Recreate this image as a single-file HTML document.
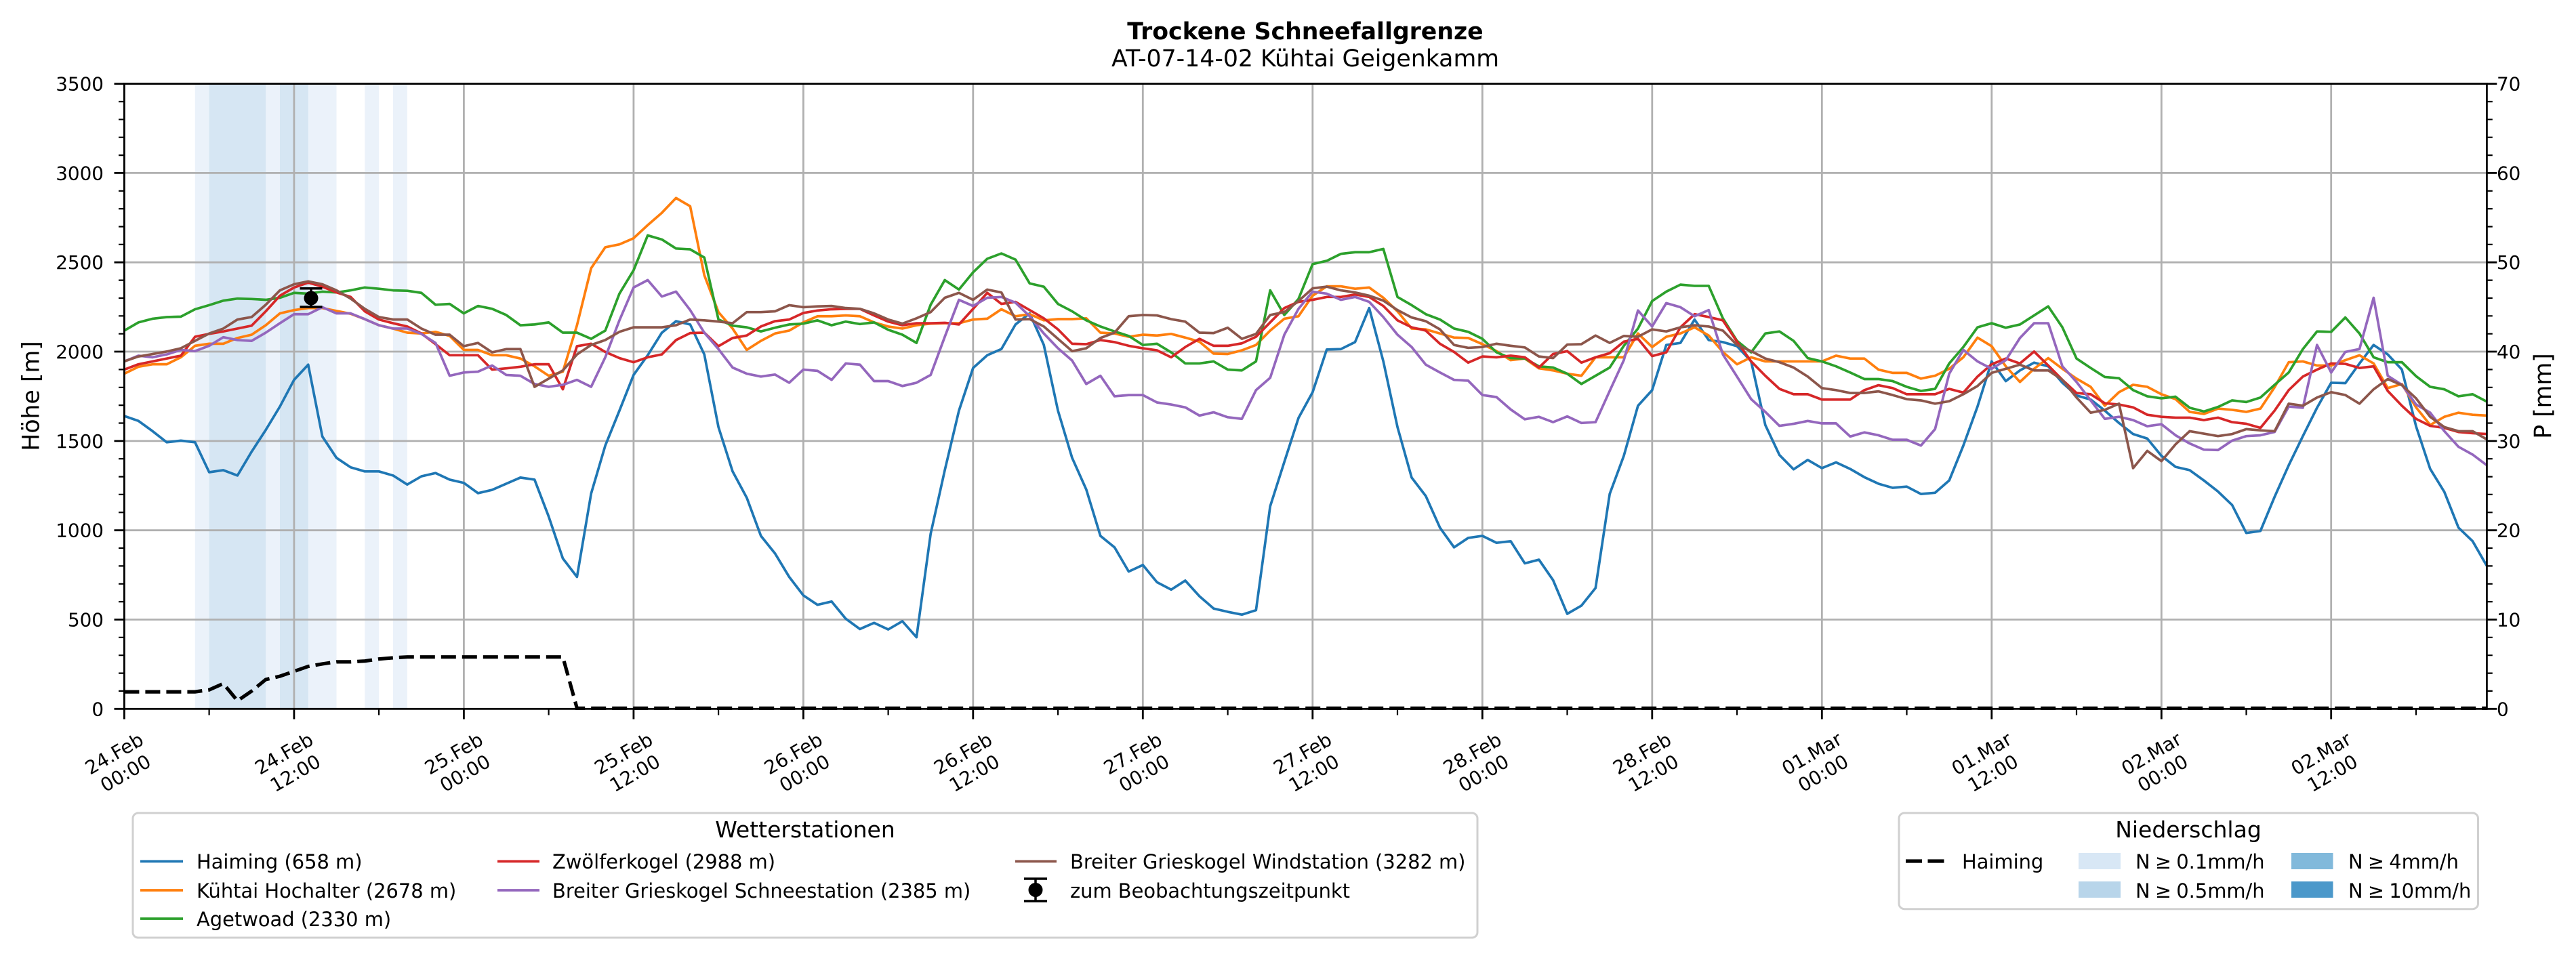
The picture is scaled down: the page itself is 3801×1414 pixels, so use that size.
<!DOCTYPE html>
<html><head><meta charset="utf-8"><style>
html,body{margin:0;padding:0;background:#fff;}
svg{display:block;}
text{font-family:"DejaVu Sans","Liberation Sans",sans-serif;fill:#000;}
.t{font-size:27.8px;}
.l{font-size:28.9px;}
.lt{font-size:33px;}
.s polyline{fill:none;stroke-width:3.7;stroke-linejoin:round;vector-effect:non-scaling-stroke;}
</style></head><body>
<svg width="3801" height="1414" viewBox="0 0 3801 1414" xmlns="http://www.w3.org/2000/svg">
<rect width="3801" height="1414" fill="#fff"/>
<text x="1926" y="58" font-size="34.7" font-weight="bold" text-anchor="middle">Trockene Schneefallgrenze</text>
<text x="1926" y="98" font-size="34.7" text-anchor="middle">AT-07-14-02 Kühtai Geigenkamm</text>

<!-- precipitation bands -->
<g>
<rect x="287.8" y="123.6" width="21.3" height="922.7" fill="#ebf2fa"/>
<rect x="308.6" y="123.6" width="83.9" height="922.7" fill="#d6e6f3"/>
<rect x="392.1" y="123.6" width="21.3" height="922.7" fill="#ebf2fa"/>
<rect x="413.0" y="123.6" width="42.1" height="922.7" fill="#d6e6f3"/>
<rect x="454.8" y="123.6" width="41.7" height="922.7" fill="#ebf2fa"/>
<rect x="538.3" y="123.6" width="20.9" height="922.7" fill="#ebf2fa"/>
<rect x="580.0" y="123.6" width="20.9" height="922.7" fill="#ebf2fa"/>
</g>

<!-- grid -->
<g stroke="#b0b0b0" stroke-width="2.8">
<path d="M433.9,123.6V1046.3M684.4,123.6V1046.3M934.9,123.6V1046.3M1185.4,123.6V1046.3M1435.8,123.6V1046.3M1686.3,123.6V1046.3M1936.8,123.6V1046.3M2187.3,123.6V1046.3M2437.8,123.6V1046.3M2688.3,123.6V1046.3M2938.8,123.6V1046.3M3189.3,123.6V1046.3M3439.7,123.6V1046.3"/>
<path d="M183.4,914.5H3669.4M183.4,782.7H3669.4M183.4,650.9H3669.4M183.4,519.0H3669.4M183.4,387.2H3669.4M183.4,255.4H3669.4"/>
</g>

<!-- precipitation dashed line -->
<polyline fill="none" stroke="#000" stroke-width="5.2" stroke-dasharray="22 9" points="183.4,1021.1 287.8,1021.1 308.6,1018.2 329.5,1009.0 350.4,1034.4 371.3,1020.0 392.1,1003.0 413.0,998.1 433.9,990.9 454.8,983.6 475.6,979.9 496.5,976.9 517.4,976.9 538.3,975.7 559.1,972.7 580.0,970.9 600.9,969.7 830.5,969.7 851.4,1045.4 3669.4,1045.4"/>

<!-- series -->
<g class="s" transform="matrix(20.874 0 0 0.60588 183.4 109.3)">
<polyline stroke="#1f77b4" points="0,833 1,845 2,870 3,897 4,893 5,897 6,970 7,965 8,978 9,920 10,867 11,810 12,745 13,708 14,883 15,935 16,958 17,968 18,968 19,978 20,1000 21,980 22,972 23,988 24,996 25,1021 26,1013 27,998 28,983 29,988 30,1078 31,1180 32,1225 33,1022 34,905 35,820 36,733 37,685 38,630 39,602 40,610 41,683 42,860 43,968 44,1032 45,1125 46,1168 47,1225 48,1270 49,1293 50,1285 51,1327 52,1352 53,1337 54,1353 55,1333 56,1372 57,1120 58,965 59,820 60,716 61,685 62,670 63,610 64,583 65,660 66,820 67,935 68,1012 69,1125 70,1153 71,1212 72,1196 73,1238 74,1256 75,1234 76,1272 77,1302 78,1310 79,1317 80,1306 81,1053 82,945 83,838 84,775 85,671 86,670 87,653 88,570 89,700 90,860 91,983 92,1028 93,1105 94,1153 95,1130 96,1125 97,1142 98,1138 99,1192 100,1183 101,1233 102,1315 103,1295 104,1252 105,1023 106,930 107,808 108,770 109,660 110,655 111,598 112,648 113,653 114,663 115,700 116,855 117,928 118,963 119,940 120,960 121,946 122,962 123,982 124,998 125,1008 126,1005 127,1023 128,1020 129,990 130,905 131,810 132,700 133,748 134,722 135,703 136,712 137,752 138,783 139,793 140,820 141,850 142,877 143,888 144,930 145,957 146,965 147,990 148,1017 149,1050 150,1118 151,1113 152,1030 153,953 154,882 155,813 156,752 157,753 158,705 159,660 160,683 161,720 162,858 163,962 164,1018 165,1105 166,1138 167,1198"/>
<polyline stroke="#ff7f0e" points="0,730 1,713 2,707 3,707 4,690 5,662 6,657 7,657 8,643 9,635 10,612 11,583 12,575 13,570 14,570 15,577 16,584 17,597 18,612 19,620 20,630 21,632 22,628 23,638 24,672 25,672 26,685 27,685 28,693 29,712 30,735 31,725 32,612 33,473 34,422 35,415 36,400 37,368 38,338 39,302 40,322 41,490 42,580 43,620 44,672 45,650 46,632 47,625 48,605 49,590 50,590 51,588 52,590 53,605 54,615 55,620 56,612 57,608 58,607 59,607 60,598 61,596 62,573 63,590 64,585 65,600 66,597 67,597 68,595 69,630 70,632 71,640 72,635 73,637 74,633 75,642 76,652 77,681 78,682 79,673 80,660 81,625 82,596 83,590 84,540 85,517 86,517 87,523 88,520 89,545 90,578 91,620 92,622 93,632 94,642 95,643 96,658 97,675 98,697 99,693 100,717 101,722 102,730 103,735 104,690 105,690 106,690 107,632 108,665 109,640 110,632 111,617 112,637 113,677 114,707 115,690 116,700 117,700 118,700 119,700 120,700 121,686 122,693 123,693 124,720 125,728 126,728 127,742 128,735 129,718 130,690 131,642 132,663 133,712 134,750 135,718 136,692 137,718 138,742 139,762 140,808 141,775 142,757 143,762 144,780 145,792 146,823 147,828 148,815 149,818 150,823 151,815 152,763 153,702 154,700 155,710 156,710 157,697 158,685 159,705 160,765 161,755 162,812 163,855 164,835 165,825 166,830 167,832"/>
<polyline stroke="#2ca02c" points="0,625 1,605 2,596 3,592 4,591 5,573 6,563 7,552 8,547 9,548 10,550 11,545 12,533 13,535 14,530 15,532 16,527 17,520 18,523 19,527 20,528 21,533 22,562 23,560 24,583 25,565 26,572 27,587 28,612 29,610 30,605 31,630 32,630 33,645 34,625 35,535 36,478 37,393 38,403 39,425 40,427 41,447 42,598 43,613 44,617 45,627 46,618 47,610 48,608 49,600 50,612 51,603 52,609 53,605 54,623 55,635 56,655 57,562 58,502 59,525 60,483 61,450 62,437 63,452 64,510 65,518 66,560 67,578 68,600 69,615 70,627 71,638 72,660 73,657 74,678 75,705 76,705 77,700 78,720 79,722 80,700 81,527 82,587 83,548 84,463 85,455 86,438 87,434 88,434 89,426 90,543 91,563 92,585 93,598 94,620 95,628 96,645 97,678 98,692 99,693 100,712 101,715 102,730 103,755 104,735 105,715 106,662 107,620 108,553 109,530 110,513 111,516 112,516 113,595 114,650 115,678 116,632 117,627 118,650 119,692 120,700 121,712 122,727 123,743 124,743 125,748 126,762 127,772 128,767 129,705 130,665 131,617 132,607 133,618 134,610 135,588 136,566 137,617 138,693 139,716 140,738 141,741 142,770 143,785 144,790 145,786 146,813 147,822 148,811 149,795 150,799 151,788 152,757 153,727 154,670 155,627 156,628 157,593 158,632 159,690 160,702 161,702 162,736 163,762 164,768 165,785 166,780 167,798"/>
<polyline stroke="#d62728" points="0,720 1,707 2,700 3,693 4,686 5,640 6,633 7,627 8,620 9,613 10,578 11,540 12,520 13,508 14,518 15,532 16,543 17,578 18,598 19,607 20,615 21,632 22,658 23,685 24,685 25,685 26,720 27,717 28,713 29,707 30,707 31,768 32,663 33,657 34,677 35,692 36,702 37,690 38,683 39,648 40,631 41,630 42,663 43,643 44,637 45,615 46,602 47,598 48,582 49,576 50,573 51,572 52,572 53,588 54,603 55,612 56,607 57,607 58,606 59,610 60,572 61,533 62,560 63,555 64,575 65,595 66,622 67,657 68,658 69,648 70,653 71,662 72,668 73,673 74,690 75,665 76,645 77,662 78,662 79,656 80,640 81,605 82,570 83,555 84,550 85,543 86,543 87,537 88,543 89,565 90,600 91,617 92,625 93,657 94,677 95,703 96,688 97,690 98,686 99,690 100,715 101,682 102,675 103,703 104,690 105,680 106,652 107,645 108,687 109,678 110,617 111,585 112,592 113,600 114,652 115,700 116,735 117,767 118,780 119,780 120,793 121,793 122,793 123,770 124,758 125,765 126,780 127,780 128,780 129,767 130,776 131,737 132,707 133,693 134,705 135,676 136,710 137,745 138,777 139,780 140,802 141,805 142,812 143,830 144,835 145,837 146,837 147,843 148,837 149,848 150,852 151,862 152,820 153,770 154,737 155,720 156,705 157,706 158,716 159,712 160,772 161,808 162,840 163,857 164,862 165,872 166,875 167,877"/>
<polyline stroke="#9467bd" points="0,700 1,686 2,690 3,683 4,672 5,675 6,662 7,641 8,648 9,650 10,630 11,607 12,585 13,585 14,568 15,583 16,583 17,597 18,612 19,620 20,620 21,633 22,655 23,735 24,727 25,725 26,710 27,733 28,735 29,755 30,762 31,757 32,745 33,762 34,690 35,600 36,520 37,502 38,542 39,530 40,575 41,630 42,670 43,715 44,730 45,737 46,732 47,752 48,720 49,723 50,745 51,705 52,708 53,748 54,748 55,760 56,752 57,733 58,640 59,550 60,565 61,545 62,543 63,557 64,590 65,632 66,668 67,698 68,755 69,735 70,785 71,782 72,782 73,800 74,805 75,812 76,832 77,824 78,836 79,840 80,770 81,740 82,635 83,572 84,530 85,535 86,550 87,543 88,555 89,592 90,635 91,665 92,708 93,727 94,745 95,747 96,782 97,787 98,817 99,841 100,835 101,848 102,834 103,850 104,848 105,772 106,697 107,576 108,615 109,558 110,568 111,590 112,575 113,683 114,737 115,792 116,823 117,857 118,852 119,845 120,851 121,851 122,883 123,873 124,880 125,891 126,891 127,905 128,865 129,730 130,672 131,700 132,718 133,697 134,643 135,607 136,607 137,712 138,750 139,795 140,840 141,835 142,843 143,858 144,853 145,880 146,900 147,915 148,916 149,893 150,882 151,880 152,872 153,810 154,813 155,660 156,727 157,677 158,670 159,545 160,735 161,757 162,805 163,825 164,870 165,908 166,927 167,953"/>
<polyline stroke="#8c564b" points="0,700 1,688 2,682 3,676 4,668 5,650 6,632 7,620 8,598 9,592 10,562 11,527 12,512 13,505 14,512 15,527 16,547 17,572 18,592 19,598 20,598 21,620 22,635 23,635 24,663 25,655 26,678 27,670 28,670 29,762 30,742 31,722 32,683 33,660 34,648 35,628 36,617 37,617 38,617 39,612 40,598 41,600 42,603 43,607 44,580 45,580 46,578 47,563 48,568 49,566 50,565 51,570 52,572 53,583 54,598 55,608 56,595 57,580 58,545 59,533 60,550 61,525 62,532 63,598 64,597 65,615 66,645 67,675 68,668 69,643 70,630 71,590 72,587 73,588 74,597 75,603 76,630 77,631 78,618 79,645 80,633 81,587 82,580 83,553 84,522 85,518 86,527 87,532 88,540 89,552 90,575 91,593 92,602 93,622 94,660 95,667 96,665 97,657 98,662 99,666 100,688 101,692 102,659 103,658 104,637 105,655 106,638 107,640 108,622 109,627 110,617 111,612 112,615 113,625 114,660 115,675 116,693 117,702 118,715 119,737 120,765 121,770 122,777 123,777 124,773 125,782 126,792 127,795 128,803 129,797 130,780 131,760 132,728 133,718 134,708 135,722 136,722 137,745 138,788 139,825 140,818 141,803 142,960 143,918 144,943 145,902 146,870 147,876 148,882 149,877 150,865 151,868 152,870 153,803 154,808 155,788 156,775 157,782 158,803 159,768 160,743 161,758 162,790 163,835 164,860 165,870 166,870 167,890"/>
</g>

<!-- observation errorbar -->
<g stroke="#000" stroke-width="3.5">
<path d="M459,425.7V453M442.5,425.7H475.5M442.5,453H475.5"/>
</g>
<circle cx="459" cy="440" r="10.5" fill="#000"/>

<!-- spines -->
<rect x="183.4" y="123.6" width="3486" height="922.7" fill="none" stroke="#000" stroke-width="2.8"/>

<!-- ticks -->
<g stroke="#000" stroke-width="2.8">
<path d="M168.5,1046.3H183.4M168.5,914.5H183.4M168.5,782.7H183.4M168.5,650.9H183.4M168.5,519.0H183.4M168.5,387.2H183.4M168.5,255.4H183.4M168.5,123.6H183.4"/>
<path d="M3669.4,1046.3H3684.3M3669.4,914.5H3684.3M3669.4,782.7H3684.3M3669.4,650.9H3684.3M3669.4,519.0H3684.3M3669.4,387.2H3684.3M3669.4,255.4H3684.3M3669.4,123.6H3684.3"/>
<path d="M183.4,1046.3V1061.5M433.9,1046.3V1061.5M684.4,1046.3V1061.5M934.9,1046.3V1061.5M1185.4,1046.3V1061.5M1435.8,1046.3V1061.5M1686.3,1046.3V1061.5M1936.8,1046.3V1061.5M2187.3,1046.3V1061.5M2437.8,1046.3V1061.5M2688.3,1046.3V1061.5M2938.8,1046.3V1061.5M3189.3,1046.3V1061.5M3439.7,1046.3V1061.5"/>
</g>
<g stroke="#000" stroke-width="2.2">
<path d="M175,1019.9H183.4M175,993.6H183.4M175,967.2H183.4M175,940.9H183.4M175,888.1H183.4M175,861.8H183.4M175,835.4H183.4M175,809.0H183.4M175,756.3H183.4M175,729.9H183.4M175,703.6H183.4M175,677.2H183.4M175,624.5H183.4M175,598.1H183.4M175,571.8H183.4M175,545.4H183.4M175,492.7H183.4M175,466.3H183.4M175,440.0H183.4M175,413.6H183.4M175,360.9H183.4M175,334.5H183.4M175,308.1H183.4M175,281.8H183.4M175,229.1H183.4M175,202.7H183.4M175,176.3H183.4M175,150.0H183.4"/>
<path d="M3669.4,1019.9H3677.8M3669.4,993.6H3677.8M3669.4,967.2H3677.8M3669.4,940.9H3677.8M3669.4,888.1H3677.8M3669.4,861.8H3677.8M3669.4,835.4H3677.8M3669.4,809.0H3677.8M3669.4,756.3H3677.8M3669.4,729.9H3677.8M3669.4,703.6H3677.8M3669.4,677.2H3677.8M3669.4,624.5H3677.8M3669.4,598.1H3677.8M3669.4,571.8H3677.8M3669.4,545.4H3677.8M3669.4,492.7H3677.8M3669.4,466.3H3677.8M3669.4,440.0H3677.8M3669.4,413.6H3677.8M3669.4,360.9H3677.8M3669.4,334.5H3677.8M3669.4,308.1H3677.8M3669.4,281.8H3677.8M3669.4,229.1H3677.8M3669.4,202.7H3677.8M3669.4,176.3H3677.8M3669.4,150.0H3677.8"/>
<path d="M308.6,1046.3V1055.5M559.1,1046.3V1055.5M809.6,1046.3V1055.5M1060.1,1046.3V1055.5M1310.6,1046.3V1055.5M1561.1,1046.3V1055.5M1811.6,1046.3V1055.5M2062.0,1046.3V1055.5M2312.5,1046.3V1055.5M2563.0,1046.3V1055.5M2813.5,1046.3V1055.5M3064.0,1046.3V1055.5M3314.5,1046.3V1055.5M3565.0,1046.3V1055.5"/>
</g>

<!-- left tick labels -->
<g class="t" text-anchor="end">
<text class="t" x="153" y="1056.3">0</text>
<text class="t" x="153" y="924.5">500</text>
<text class="t" x="153" y="792.7">1000</text>
<text class="t" x="153" y="660.9">1500</text>
<text class="t" x="153" y="529.0">2000</text>
<text class="t" x="153" y="397.2">2500</text>
<text class="t" x="153" y="265.4">3000</text>
<text class="t" x="153" y="133.6">3500</text>
</g>
<!-- right tick labels -->
<g>
<text class="t" x="3684" y="1056.3">0</text>
<text class="t" x="3684" y="924.5">10</text>
<text class="t" x="3684" y="792.7">20</text>
<text class="t" x="3684" y="660.9">30</text>
<text class="t" x="3684" y="529.0">40</text>
<text class="t" x="3684" y="397.2">50</text>
<text class="t" x="3684" y="265.4">60</text>
<text class="t" x="3684" y="133.6">70</text>
</g>

<!-- axis labels -->
<text font-size="34.7" text-anchor="middle" transform="translate(57.5,584.5) rotate(-90)">Höhe [m]</text>
<text font-size="34.7" text-anchor="middle" transform="translate(3763.8,584.5) rotate(-90)">P [mm]</text>

<!-- x tick labels -->
<g class="t" text-anchor="middle">
<g transform="translate(176.4,1126) rotate(-30)"><text class="t" text-anchor="middle"><tspan x="0" y="-6">24.Feb</tspan><tspan x="0" y="27.4">00:00</tspan></text></g>
<g transform="translate(426.9,1126) rotate(-30)"><text class="t" text-anchor="middle"><tspan x="0" y="-6">24.Feb</tspan><tspan x="0" y="27.4">12:00</tspan></text></g>
<g transform="translate(677.4,1126) rotate(-30)"><text class="t" text-anchor="middle"><tspan x="0" y="-6">25.Feb</tspan><tspan x="0" y="27.4">00:00</tspan></text></g>
<g transform="translate(927.9,1126) rotate(-30)"><text class="t" text-anchor="middle"><tspan x="0" y="-6">25.Feb</tspan><tspan x="0" y="27.4">12:00</tspan></text></g>
<g transform="translate(1178.4,1126) rotate(-30)"><text class="t" text-anchor="middle"><tspan x="0" y="-6">26.Feb</tspan><tspan x="0" y="27.4">00:00</tspan></text></g>
<g transform="translate(1428.8,1126) rotate(-30)"><text class="t" text-anchor="middle"><tspan x="0" y="-6">26.Feb</tspan><tspan x="0" y="27.4">12:00</tspan></text></g>
<g transform="translate(1679.3,1126) rotate(-30)"><text class="t" text-anchor="middle"><tspan x="0" y="-6">27.Feb</tspan><tspan x="0" y="27.4">00:00</tspan></text></g>
<g transform="translate(1929.8,1126) rotate(-30)"><text class="t" text-anchor="middle"><tspan x="0" y="-6">27.Feb</tspan><tspan x="0" y="27.4">12:00</tspan></text></g>
<g transform="translate(2180.3,1126) rotate(-30)"><text class="t" text-anchor="middle"><tspan x="0" y="-6">28.Feb</tspan><tspan x="0" y="27.4">00:00</tspan></text></g>
<g transform="translate(2430.8,1126) rotate(-30)"><text class="t" text-anchor="middle"><tspan x="0" y="-6">28.Feb</tspan><tspan x="0" y="27.4">12:00</tspan></text></g>
<g transform="translate(2681.3,1126) rotate(-30)"><text class="t" text-anchor="middle"><tspan x="0" y="-6">01.Mar</tspan><tspan x="0" y="27.4">00:00</tspan></text></g>
<g transform="translate(2931.8,1126) rotate(-30)"><text class="t" text-anchor="middle"><tspan x="0" y="-6">01.Mar</tspan><tspan x="0" y="27.4">12:00</tspan></text></g>
<g transform="translate(3182.3,1126) rotate(-30)"><text class="t" text-anchor="middle"><tspan x="0" y="-6">02.Mar</tspan><tspan x="0" y="27.4">00:00</tspan></text></g>
<g transform="translate(3432.7,1126) rotate(-30)"><text class="t" text-anchor="middle"><tspan x="0" y="-6">02.Mar</tspan><tspan x="0" y="27.4">12:00</tspan></text></g>
</g>

<!-- legend 1 -->
<rect x="196" y="1200" width="1984" height="184" rx="8" ry="8" fill="#fff" stroke="#d0d0d0" stroke-width="3"/>
<text class="lt" x="1188" y="1236" text-anchor="middle">Wetterstationen</text>
<g stroke-width="3.7">
<line x1="207" y1="1271.4" x2="270" y2="1271.4" stroke="#1f77b4"/>
<line x1="207" y1="1314" x2="270" y2="1314" stroke="#ff7f0e"/>
<line x1="207" y1="1356" x2="270" y2="1356" stroke="#2ca02c"/>
<line x1="734" y1="1271.4" x2="796" y2="1271.4" stroke="#d62728"/>
<line x1="734" y1="1314" x2="796" y2="1314" stroke="#9467bd"/>
<line x1="1498" y1="1271.4" x2="1559" y2="1271.4" stroke="#8c564b"/>
</g>
<text class="l" x="290" y="1282">Haiming (658 m)</text>
<text class="l" x="290" y="1325">Kühtai Hochalter (2678 m)</text>
<text class="l" x="290" y="1367">Agetwoad (2330 m)</text>
<text class="l" x="815" y="1282">Zwölferkogel (2988 m)</text>
<text class="l" x="815" y="1325">Breiter Grieskogel Schneestation (2385 m)</text>
<text class="l" x="1579" y="1282">Breiter Grieskogel Windstation (3282 m)</text>
<text class="l" x="1579" y="1325">zum Beobachtungszeitpunkt</text>
<g stroke="#000" stroke-width="3.5">
<path d="M1528,1297V1330M1511,1297H1545M1511,1330H1545"/>
</g>
<circle cx="1528" cy="1313.5" r="10.5" fill="#000"/>

<!-- legend 2 -->
<rect x="2802" y="1200" width="854.5" height="141.7" rx="8" ry="8" fill="#fff" stroke="#d0d0d0" stroke-width="3"/>
<text class="lt" x="3229" y="1236" text-anchor="middle">Niederschlag</text>
<line x1="2812" y1="1271" x2="2868.5" y2="1271" stroke="#000" stroke-width="5.2" stroke-dasharray="24 8.5"/>
<text class="l" x="2895" y="1282">Haiming</text>
<rect x="3067" y="1259" width="62" height="24" fill="#d8e7f5"/>
<rect x="3067" y="1301" width="62" height="24" fill="#b8d5ea"/>
<rect x="3381" y="1259" width="61.5" height="24" fill="#81b9db"/>
<rect x="3381" y="1301" width="61.5" height="24" fill="#4b98ca"/>
<text class="l" x="3151" y="1282">N&#8197;≥&#8197;0.1mm/h</text>
<text class="l" x="3151" y="1325">N&#8197;≥&#8197;0.5mm/h</text>
<text class="l" x="3465" y="1282">N&#8197;≥&#8197;4mm/h</text>
<text class="l" x="3465" y="1325">N&#8197;≥&#8197;10mm/h</text>
</svg>
</body></html>
